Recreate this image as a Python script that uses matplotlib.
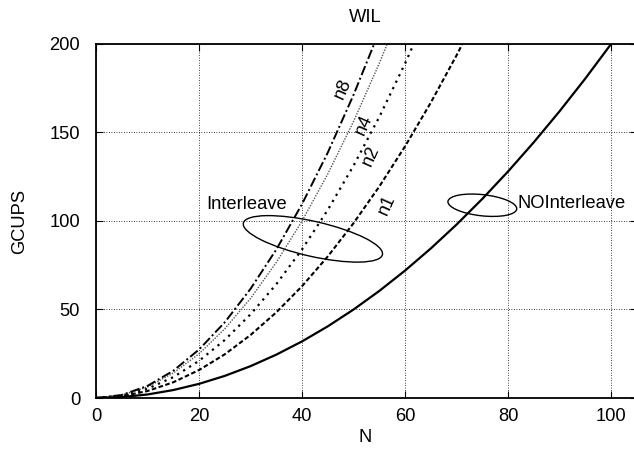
import numpy as np
import matplotlib
matplotlib.use("Agg")
import matplotlib.pyplot as plt
from matplotlib.patches import Ellipse
from matplotlib.transforms import ScaledTranslation

plt.rcParams['font.family'] = ['Liberation Sans', 'DejaVu Sans']

# N values (step 5) and GCUPS
n_all = [0, 5, 10, 15, 20, 25, 30, 35, 40, 45, 50, 55, 60, 65, 70, 75, 80, 85, 90, 95, 100, 105]
no_interleave = [0, 0.5, 2.0, 4.5, 8.0, 12.5, 18.0, 24.5, 32.0, 40.5, 50.0, 60.5, 72.0,
                 84.5, 98.0, 112.5, 128.0, 144.5, 162.0, 180.5, 200.0, 220.5]
n1 = [0, 1.0, 3.95, 8.9, 15.8, 24.7, 35.6, 48.4, 63.2, 80.0, 98.8, 119.5, 142.2, 166.9, 193.6, 222.2]
n2 = [0, 1.3, 5.25, 11.8, 21.0, 32.8, 47.3, 64.3, 84.0, 106.3, 131.3, 158.8, 189.0, 221.8]
n4 = [0, 1.6, 6.25, 14.1, 25.0, 39.1, 56.3, 76.6, 100.0, 126.6, 156.3, 189.1, 225.0]
n8 = [0, 1.7, 6.85, 15.4, 27.4, 42.8, 61.7, 83.9, 109.6, 138.7, 171.3, 207.2]

fs = 13.2

fig = plt.figure(figsize=(6.34, 4.51), dpi=100)
ax = fig.add_axes([0.1515, 0.1175, 0.853, 0.785])

ax.plot(n_all, no_interleave, color='black', lw=1.6, ls='-')
ax.plot(n_all[:len(n1)], n1, color='black', lw=1.5, ls=(0, (2.2, 1.2)))
ax.plot(n_all[:len(n2)], n2, color='black', lw=1.6, ls=(0, (1, 2.2)))
ax.plot(n_all[:len(n4)], n4, color='#555555', lw=1.0, ls=(0, (1, 1)))
ax.plot(n_all[:len(n8)], n8, color='black', lw=1.4, ls=(0, (5, 1.5, 1, 1.5)))

ax.set_xlim(0, 105)
ax.set_ylim(0, 200)
ax.set_xticks([0, 20, 40, 60, 80, 100])
ax.set_yticks([0, 50, 100, 150, 200])
ax.tick_params(direction='in', length=5, top=True, right=True, labelsize=fs, width=0.8)
ax.tick_params(axis='x', pad=7.5)
ax.tick_params(axis='y', pad=11.5)
ax.grid(True, color='black', lw=0.6, ls=(0, (1, 2)))
for s in ax.spines.values():
    s.set_linewidth(1.3)

# axis labels and title placed in figure coords
fig.text(20 / 634, 1 - 221 / 451, 'GCUPS', rotation=90, ha='center', va='center', fontsize=fs)
fig.text(365 / 634, 1 - 437 / 451, 'N', ha='center', va='center', fontsize=fs)
fig.text(365 / 634, 1 - 18 / 451, 'WIL', ha='center', va='center', fontsize=fs)

# curve labels
ax.text(48.0, 174.9, 'n8', rotation=66, ha='center', va='center', fontsize=fs)
ax.text(51.9, 154.5, 'n4', rotation=66, ha='center', va='center', fontsize=fs)
ax.text(53.3, 136.7, 'n2', rotation=66, ha='center', va='center', fontsize=fs)
ax.text(56.4, 109.2, 'n1', rotation=66, ha='center', va='center', fontsize=fs)

ax.text(21.3, 109.2, 'Interleave', ha='left', va='center', fontsize=fs)
ax.text(81.9, 110.0, 'NOInterleave', ha='left', va='center', fontsize=fs)

# ellipses drawn in inches, centred in data coords
e1 = Ellipse((0, 0), 1.426, 0.35, angle=-12.8, fill=False, color='black', lw=1.0,
             transform=fig.dpi_scale_trans + ScaledTranslation(42.1, 89.9, ax.transData))
e2 = Ellipse((0, 0), 0.692, 0.212, angle=-6.3, fill=False, color='black', lw=1.0,
             transform=fig.dpi_scale_trans + ScaledTranslation(75.0, 108.9, ax.transData))
ax.add_patch(e1)
ax.add_patch(e2)

fig.savefig('out.png', dpi=100)
